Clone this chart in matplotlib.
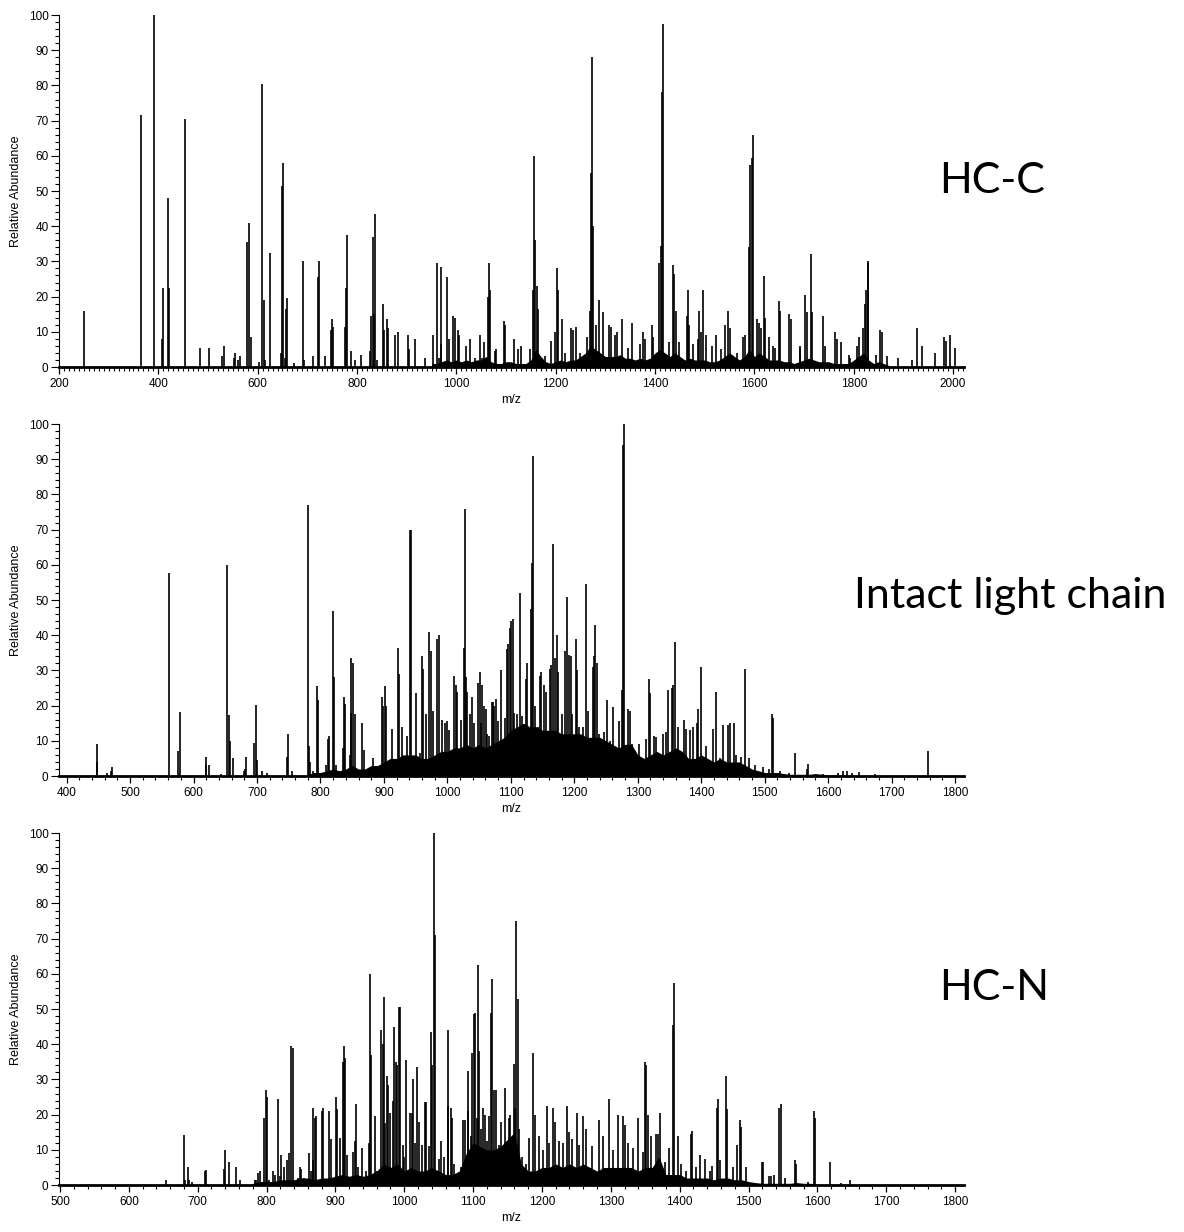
import numpy as np
import matplotlib
matplotlib.use('Agg')
import matplotlib.pyplot as plt
from matplotlib.ticker import MultipleLocator

plt.rcParams['font.family'] = ['Liberation Sans', 'DejaVu Sans']

# ---------------- HC-C (top) ----------------
hcc_mz = [250, 366, 392, 407, 410, 420, 422, 453, 484, 502, 528, 533, 553, 555, 561, 565,
          579, 582, 587, 603, 609.5, 612, 615, 625.6, 647, 650, 652, 655, 658, 660, 672.5,
          690.5, 694, 712, 720.7, 723.4, 735.4, 747.5, 750, 752, 775.6, 778, 780, 787.7, 795.7,
          809, 826.5, 829, 832, 834.6, 837.2, 841, 852, 854.6, 860, 862.6, 876, 882.8, 903,
          905.6, 916, 936, 952.4, 961.8, 964.5, 968.5, 970, 980.6, 984.6, 994, 996.7, 1003.3,
          1006, 1019.4, 1027.5, 1036.8, 1047.6, 1051.6, 1055.6, 1063.6, 1066.3, 1068.3, 1077,
          1079.7, 1096, 1097, 1116, 1124, 1131, 1148, 1155, 1157, 1159, 1162, 1165, 1178, 1191,
          1199, 1203, 1204, 1212, 1218, 1231, 1234, 1241, 1249, 1263, 1270, 1272, 1274, 1276,
          1281, 1288, 1295, 1308, 1312, 1320, 1324, 1333, 1346, 1353, 1369, 1376, 1380, 1393,
          1395, 1408, 1411, 1415, 1417, 1428, 1436, 1439, 1443, 1449, 1464, 1467, 1469, 1476,
          1486, 1489, 1492, 1497, 1503, 1515, 1523, 1532, 1540, 1547, 1550, 1565, 1577, 1582,
          1589, 1592, 1595, 1598, 1605, 1609, 1613, 1620, 1622, 1630, 1638, 1642, 1649, 1652,
          1670, 1674, 1691, 1692, 1702, 1705, 1714, 1716, 1738, 1742, 1762, 1766, 1775, 1790,
          1793, 1807, 1811, 1818, 1823, 1825, 1828, 1829, 1844, 1852, 1856, 1867, 1890, 1918,
          1928, 1937, 1964, 1982, 1985, 1994, 2003]
hcc_ab = [16, 71.5, 100, 8, 22.5, 48, 22.5, 70.5, 5.5, 5.5, 3, 6, 2.5, 4, 2, 3,
          35.5, 41, 8.5, 1.5, 80.5, 19, 2, 32.5, 4, 51.5, 58, 2.5, 16.5, 19.5, 1,
          30, 2, 3, 25.5, 30, 3, 10.5, 13.5, 11.5, 11.5, 22.5, 37.5, 4.5, 2,
          3.5, 4.5, 14.5, 37, 15, 43.5, 2, 18, 10.5, 13.5, 11, 9, 10, 9,
          5, 8, 2.5, 9, 29.5, 2.5, 6.5, 28.5, 25.5, 8, 14.5, 14, 10.5,
          9, 6, 8, 2.5, 9, 2.5, 7, 20, 29.5, 22, 4.5,
          5, 13, 12, 8, 5, 6, 5, 22, 60, 36, 23, 16.5, 3, 7.5,
          10, 28, 22, 13.7, 4, 11, 10.5, 11.5, 4, 8.5, 16, 55, 88, 40,
          12, 19, 15.5, 12, 11.5, 9, 10, 13.5, 5.5, 12.5, 6.5, 10, 8, 12,
          8.5, 29.5, 34.5, 78, 97.5, 7, 29, 26.5, 16, 7, 14.5, 22, 12, 6.5,
          8, 16, 10, 22, 9, 6, 9, 5, 12, 16, 11, 4, 8.5, 9,
          34, 57.5, 59.5, 66, 13.5, 12.5, 11, 25.8, 14, 8.5, 6, 5.5, 18.7, 16,
          15, 13.5, 5.5, 6, 20.5, 15.5, 32, 15.5, 14.5, 6, 10, 8, 7, 3.5,
          2.5, 6, 8.5, 11, 18, 22, 30, 29.5, 3.5, 10.5, 10, 3, 2.5, 2,
          11, 6, 4, 8.5, 7.5, 9, 5.5]
hcc_bg_mz = list(range(950, 1880, 10))
hcc_bg_ab = [1, 1, 1.5, 2, 1.5, 2, 1.5, 2, 1.5, 2, 2, 3, 1.5, 1, 1, 1.5, 1.5, 1, 1, 1,
             2, 5, 3, 1.5, 1, 1.5, 2, 1.5, 2, 2, 3, 4, 6, 5, 4, 3, 3, 3, 3.5, 2.5,
             2.5, 2, 2.5, 2, 2.5, 4, 5, 4, 3, 4, 3, 2, 2.5, 2, 2, 2, 1.5, 1.5, 2, 3,
             4, 3, 2, 3, 5, 3, 4, 3, 2, 2, 2, 1.5, 1.5, 1, 1.5, 2, 2.5, 2, 1.5, 1.5,
             1.5, 1, 1, 1, 1, 2, 3, 4, 2, 1, 1.5, 1, 0.5]

# ---------------- Intact light chain (middle) ----------------
lc_mz = [447.5, 448.5, 463.6, 470, 472, 561.7, 576, 578, 619, 620, 624, 644, 653.5, 655.6,
         657.7, 662.4, 679, 680.7, 682, 696, 698.4, 700.5, 708, 716, 747, 748.5, 754.8, 780,
         782, 784, 788.7, 794, 795.5, 800.6, 809.5, 812, 814, 820, 821.5, 825, 835.6, 837,
         839, 846, 847.6, 848.7, 850.8, 854, 860, 866, 868.5, 882.6, 896.7, 898.8, 901, 904,
         912, 921.7, 923.8, 928, 934.7, 936, 940.6, 942.6, 950.6, 957, 960, 962, 966, 971.7,
         973.7, 978, 984, 987, 992, 997, 1000, 1003, 1010, 1013, 1015.6, 1021, 1026, 1027,
         1028.7, 1031, 1035.5, 1039, 1041.7, 1049, 1051, 1053.4, 1054, 1057.4, 1060.5, 1061.8,
         1066, 1068, 1070, 1072, 1074, 1076, 1079, 1084, 1091, 1094.7, 1096, 1098, 1100.5,
         1102.6, 1105, 1109, 1115, 1118, 1124, 1126, 1131, 1133, 1135, 1138.4, 1142.6, 1146,
         1148, 1152.6, 1155, 1161.6, 1162.6, 1166, 1170, 1172, 1174, 1180.5, 1186, 1188, 1192,
         1194, 1197, 1202.6, 1204, 1208, 1213, 1218.4, 1221.6, 1229, 1231, 1233, 1235, 1239.5,
         1246, 1251, 1256, 1261.6, 1270, 1275, 1277, 1279, 1285, 1288, 1291, 1296, 1302.6,
         1308, 1313, 1317, 1319.5, 1326, 1329, 1339.5, 1344.7, 1348, 1354, 1356, 1358, 1364,
         1373, 1376, 1381.6, 1387, 1393, 1394.7, 1397, 1400, 1408, 1418, 1422.6, 1429, 1435,
         1442.6, 1444.7, 1451, 1455, 1463, 1469, 1475, 1485, 1497, 1506, 1511, 1513, 1524,
         1539, 1547, 1566, 1568, 1592, 1616, 1623.7, 1630, 1637, 1649, 1673, 1757]
lc_ab = [4, 9.2, 1, 1.5, 2.5, 57.7, 7, 18.3, 3, 5.5, 3, 0.5, 60, 17.3,
         10, 5, 1.5, 2, 5.5, 9.5, 20.2, 4.5, 1.5, 1, 5.5, 12, 1.5, 77,
         8.5, 4, 1.5, 25.5, 21.5, 1, 3, 10.5, 11.5, 47, 28, 3, 8, 22.5,
         20.5, 6, 18, 33.5, 32, 17.5, 1, 15, 7.5, 5, 22.5, 20, 25.5, 20,
         13.5, 36.5, 29, 14, 4.5, 11.5, 70, 70, 23.5, 6.5, 34, 30.5, 17.5, 41,
         35.5, 18.5, 39, 40, 16, 15, 15.5, 13, 28.5, 26, 24, 16, 36.5, 76,
         28, 24, 17.5, 22.5, 15, 26.5, 29.5, 15, 26, 20, 19, 12,
         11.5, 6.5, 21, 21, 20, 22, 15.5, 30, 16.5, 36, 37.5, 42, 44,
         44.5, 18, 17.5, 52, 17, 27.5, 32, 47.5, 60.5, 91, 20, 14, 28.5,
         29.5, 26, 24, 30.5, 31.5, 66, 33.5, 40, 29.5, 17.5, 35.5, 51, 34.5,
         34, 17.5, 39, 30, 14, 14, 54.5, 18.5, 31, 34, 43, 32, 12,
         12.5, 21.5, 10, 19.5, 15.5, 24.5, 94, 100, 19, 18.5, 9, 7, 9,
         4, 10.5, 27.5, 23.5, 11.5, 11, 12, 12.5, 24.5, 25, 26, 38, 14,
         16, 13.5, 13, 14, 15, 19, 3, 31, 8.5, 13.5, 24, 5, 14.5,
         14.5, 15, 15, 6, 5.5, 30.5, 5, 3, 2.5, 2, 17.5, 16.5, 1.5,
         1, 6.5, 2, 3.5, 0.7, 1, 1.5, 1.5, 1, 1.2, 0.5, 7]
lc_bg_mz = list(range(780, 1620, 10))
lc_bg_ab = [0.5, 1, 1, 1.5, 2, 1.5, 2, 3, 2, 2, 3, 3, 4, 5, 5, 6, 6, 6, 5, 5,
            6, 7, 7, 8, 8, 9, 8, 9, 8, 9, 10, 11, 13, 14, 15, 14, 14, 13, 13, 13,
            12, 12, 12, 12, 11, 11, 11, 10, 9, 8, 9, 9, 6, 5, 6, 7, 6, 7, 8, 7,
            5, 5, 6, 5, 4, 5, 4, 4, 4, 3, 2, 1.5, 1, 1, 1, 0.7, 0.5, 0.5, 0.5, 0.5,
            0.7, 0.5, 0.3, 0.3]

# ---------------- HC-N (bottom) ----------------
hcn_mz = [654.6, 680, 681.6, 686, 688, 691, 710, 711.6, 738, 739.6, 745, 756, 761, 782.6,
          785, 788, 790, 797, 799, 800.5, 804, 810, 812, 817, 819, 821, 826, 829.5, 832,
          835.8, 837.7, 845, 848, 850, 855, 861, 864.7, 867, 868, 870, 872, 880.7, 882.6,
          891, 893, 901, 903, 906.8, 910.6, 912.6, 914.5, 917.4, 926, 928, 930, 932.6, 939,
          944.5, 948.5, 950, 951, 957, 961, 966.7, 968.6, 970, 971.5, 975, 977, 979, 984,
          985, 988, 990, 992, 993.7, 997.6, 1000, 1003, 1008, 1011, 1013, 1016, 1019,
          1021.5, 1025.6, 1029.5, 1031, 1036, 1039, 1041, 1043.5, 1045, 1050, 1053, 1058,
          1063, 1064, 1067.5, 1070, 1072.5, 1077, 1082, 1085.6, 1088.5, 1092, 1093, 1097,
          1099, 1101, 1103, 1105, 1107, 1108.7, 1111.5, 1114.4, 1117, 1120, 1123, 1126,
          1127.5, 1131, 1133, 1138, 1141, 1146.6, 1151.5, 1154, 1159, 1161, 1163, 1164.6,
          1167, 1171, 1176.7, 1181.6, 1187.4, 1190, 1195, 1202, 1207.8, 1210.7, 1215.5,
          1219.4, 1225, 1230, 1236, 1240, 1243.7, 1250.5, 1254, 1260, 1264, 1272, 1282.5,
          1289, 1297, 1303, 1310, 1317.4, 1320, 1324.7, 1332, 1339.7, 1346.5, 1349, 1351,
          1354, 1358.6, 1365, 1368, 1372, 1378.5, 1385, 1390, 1392, 1398, 1402, 1409.5,
          1417, 1418, 1424, 1429, 1436.7, 1443.5, 1447, 1454, 1455.6, 1459, 1467, 1469,
          1477.5, 1483, 1487, 1488.6, 1496, 1519, 1521, 1530, 1533, 1537, 1545, 1547,
          1552.6, 1567, 1568.7, 1586.6, 1595, 1597, 1619, 1635, 1648]
hcn_ab = [1.3, 14.2, 1.5, 5, 1.5, 1, 4, 4.2, 4.5, 10, 6.5, 5, 1.5, 1.5,
          1.5, 3.5, 4, 19, 27, 25, 1.5, 4, 3, 24.5, 2.5, 8.5, 5, 7, 9,
          39.5, 39, 2, 5, 4.5, 2, 9, 4, 7, 22, 19, 19.5, 21, 22,
          21, 13, 25, 21.5, 13.5, 35, 39.5, 36, 8.5, 9.5, 12.5, 23, 5, 10.5,
          4, 12, 60, 37, 19.5, 4, 44, 40, 53.5, 17.5, 31, 28.5, 20.5, 24,
          45, 35, 34, 50.5, 50.5, 11.5, 8, 35.5, 20.5, 20.5, 30, 12, 33.5,
          18, 11.5, 23.5, 23.5, 11, 43.5, 34, 100, 71, 7.5, 12.5, 8,
          22.5, 44, 22, 19, 6, 3, 5, 18.5, 18.5, 21, 32.5, 14,
          37.5, 48.5, 49, 19, 62.5, 38, 16, 22, 20, 12.5, 19.5, 49,
          58.5, 27, 27, 11.5, 18, 27.5, 19, 20, 34.5, 22, 75, 53,
          16, 8, 6, 13.5, 37.5, 20, 14, 10, 22.5, 12, 22,
          18, 12.5, 12, 22.5, 15, 13, 20.5, 11.5, 19.5, 16, 11, 18.5,
          14, 24.5, 10, 20, 19.5, 17, 12, 10.5, 19, 9.5, 35, 34,
          20, 14, 14.5, 14.5, 20.5, 6.5, 10.5, 45.5, 57.5, 14, 6, 4,
          14.5, 15.5, 5, 8.5, 7.5, 4, 5.5, 22, 24.5, 7, 31, 21.5,
          5, 11.5, 18.5, 16.5, 5, 6.5, 6.5, 2.5, 2.5, 3, 22, 23,
          2, 7, 6, 1, 21, 19, 6.5, 0.5, 1.5]
hcn_bg_mz = list(range(780, 1610, 10))
hcn_bg_ab = [0.5, 1, 1, 1, 1.5, 1.5, 1.5, 2, 2, 1.5, 2, 2, 2.5, 3, 2.5, 3, 2.5, 3, 4, 6,
             5, 6, 4, 5, 4, 4, 5, 4, 3, 3, 4, 9, 12, 11, 10, 10, 11, 13, 15, 6,
             4, 4, 5, 5, 6, 5, 6, 5, 6, 5, 4, 5, 5, 5, 5, 5, 4, 5, 5, 8,
             3, 3, 3, 2, 2, 2, 2, 1.5, 2, 2, 1.5, 1.5, 1, 0.7, 0.5, 0.5, 0.5, 0.5,
             0.5, 0.7, 0.5, 0.5, 0.3]

panels = [
    (hcc_mz, hcc_ab, hcc_bg_mz, hcc_bg_ab, (200, 2022), 200, 10, 0.7021),
    (lc_mz, lc_ab, lc_bg_mz, lc_bg_ab, (388, 1814), 100, 20, 0.3701),
    (hcn_mz, hcn_ab, hcn_bg_mz, hcn_bg_ab, (498.5, 1813), 100, 20, 0.0381),
]

fig = plt.figure(figsize=(11.84, 12.32), dpi=100)

for mz, ab, bmz, bab, xl, major, minor, bottom in panels:
    ax = fig.add_axes([0.0498, bottom, 0.7644, 0.2857])
    # dense low-level signal, then the individual peaks on top
    ax.fill_between(bmz, 0, bab, color='black', lw=0)
    ax.vlines(mz, 0, ab, color='black', lw=1.2)
    ax.set_xlim(xl)
    ax.set_ylim(0, 100)
    ax.spines['top'].set_visible(False)
    ax.spines['right'].set_visible(False)
    ax.spines['left'].set_linewidth(0.8)
    ax.spines['bottom'].set_linewidth(2.0)
    ax.xaxis.set_major_locator(MultipleLocator(major))
    ax.xaxis.set_minor_locator(MultipleLocator(minor))
    ax.yaxis.set_major_locator(MultipleLocator(10))
    ax.yaxis.set_minor_locator(MultipleLocator(2))
    ax.tick_params(axis='x', which='major', length=5, width=0.9, labelsize=8.5, pad=3)
    ax.tick_params(axis='x', which='minor', length=3, width=0.8)
    ax.tick_params(axis='y', which='major', length=6, width=0.8, labelsize=8.5, pad=1.5)
    ax.tick_params(axis='y', which='minor', length=3, width=0.8)
    ax.set_xlabel('m/z', fontsize=9, labelpad=3)
    ax.set_ylabel('Relative Abundance', fontsize=9, labelpad=5)

fig.text(0.793, 0.8433, 'HC-C', fontsize=31, family='Lato', va='baseline')
fig.text(0.721, 0.5065, 'Intact light chain', fontsize=31, family='Lato', va='baseline')
fig.text(0.793, 0.1883, 'HC-N', fontsize=31, family='Lato', va='baseline')

fig.savefig('out.png', dpi=100)
